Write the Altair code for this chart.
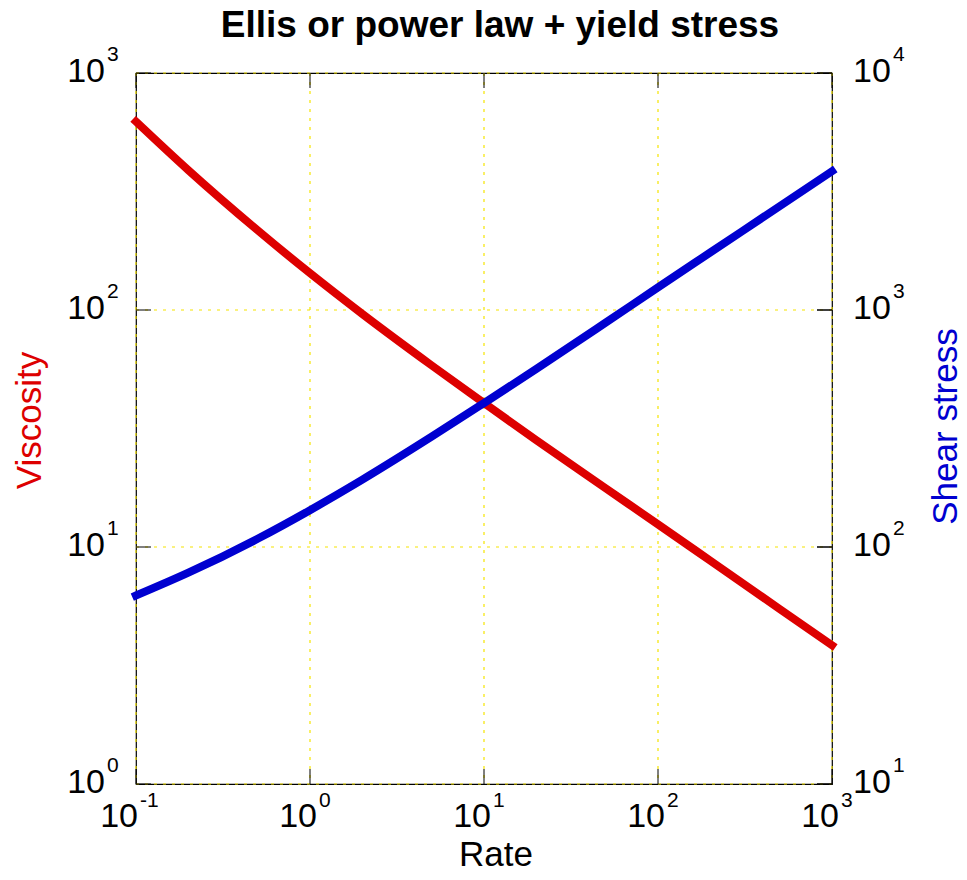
import altair as alt
import pandas as pd

# ---- data ----
rate = [0.1, 0.2, 0.5, 1, 2, 5, 10, 20, 50, 100, 200, 500, 1000]
viscosity = [624, 389, 217, 143, 96.2, 58.4, 40.5, 28.2, 17.7, 12.46, 8.75, 5.48, 3.85]
shear = [62.4, 77.9, 108.3, 143, 192.4, 292, 405, 564, 884, 1246, 1750, 2740, 3850]

x_ticks = [0.1, 1, 10, 100, 1000]
x_exps = ["-1", "0", "1", "2", "3"]
yl_ticks = [1, 10, 100, 1000]
yl_exps = ["0", "1", "2", "3"]
yr_ticks = [10, 100, 1000, 10000]
yr_exps = ["1", "2", "3", "4"]

title_text = ["Ellis or power law + yield stress"]
x_title = ["Rate"]
yl_title = ["Viscosity"]
yr_title = ["Shear stress"]

W, H = 696, 711
FONT = "Liberation Sans"
RED = "#dd0000"
BLUE = "#0000d0"
GRID = "#f5e400"
BASE_SIZE = 34
EXP_SIZE = 21
TITLE_SIZE = 35

df = pd.DataFrame({"rate": rate, "viscosity": viscosity, "shear": shear})
xt = pd.DataFrame({"rate": x_ticks, "exp": x_exps})
ylt = pd.DataFrame({"viscosity": yl_ticks, "exp": yl_exps})
yrt = pd.DataFrame({"shear": yr_ticks, "exp": yr_exps})

xscale = alt.Scale(type="log", domain=[0.1, 1000], nice=False)
ylscale = alt.Scale(type="log", domain=[1, 1000], nice=False)
yrscale = alt.Scale(type="log", domain=[10, 10000], nice=False)

X = alt.X("rate:Q", scale=xscale, axis=None)
YL = alt.Y("viscosity:Q", scale=ylscale, axis=None)
YR = alt.Y("shear:Q", scale=yrscale, axis=None)

# dashed yellow grid
xgrid = alt.Chart(xt).mark_rule(color=GRID, strokeWidth=1.2, strokeDash=[3, 6]).encode(
    x=X, y=alt.value(0), y2=alt.value(H))
ygrid = alt.Chart(ylt).mark_rule(color=GRID, strokeWidth=1.2, strokeDash=[3, 6]).encode(
    y=YL, x=alt.value(0), x2=alt.value(W))

red_line = alt.Chart(df).mark_line(color=RED, strokeWidth=8, strokeCap="square",
                                   interpolate="monotone").encode(x=X, y=YL)
blue_line = alt.Chart(df).mark_line(color=BLUE, strokeWidth=8, strokeCap="square",
                                    interpolate="monotone").encode(x=X, y=YR)

# inward tick marks
xtick_top = alt.Chart(xt).mark_rule(color="black", strokeWidth=1).encode(
    x=X, y=alt.value(0), y2=alt.value(15))
xtick_bot = alt.Chart(xt).mark_rule(color="black", strokeWidth=1).encode(
    x=X, y=alt.value(H - 15), y2=alt.value(H))
yl_tick_l = alt.Chart(ylt).mark_rule(color="black", strokeWidth=1).encode(
    y=YL, x=alt.value(0), x2=alt.value(15))
yl_tick_r = alt.Chart(ylt).mark_rule(color="black", strokeWidth=1).encode(
    y=YL, x=alt.value(W - 15), x2=alt.value(W))
yr_tick_r = alt.Chart(yrt).mark_rule(color="black", strokeWidth=1).encode(
    y=YR, x=alt.value(W - 15), x2=alt.value(W))

# tick labels as "10" + superscript exponent
txt = dict(font=FONT, color="black")
xlab_base_neg = alt.Chart(xt).transform_filter("datum.exp == '-1'").mark_text(
    align="right", baseline="alphabetic", fontSize=BASE_SIZE, dx=2, **txt).encode(
    x=X, y=alt.value(H + 43), text=alt.value("10"))
xlab_base_pos = alt.Chart(xt).transform_filter("datum.exp != '-1'").mark_text(
    align="right", baseline="alphabetic", fontSize=BASE_SIZE, dx=7, **txt).encode(
    x=X, y=alt.value(H + 43), text=alt.value("10"))
xlab_exp_neg = alt.Chart(xt).transform_filter("datum.exp == '-1'").mark_text(
    align="left", baseline="alphabetic", fontSize=EXP_SIZE, dx=4, **txt).encode(
    x=X, y=alt.value(H + 23), text="exp:N")
xlab_exp_pos = alt.Chart(xt).transform_filter("datum.exp != '-1'").mark_text(
    align="left", baseline="alphabetic", fontSize=EXP_SIZE, dx=9, **txt).encode(
    x=X, y=alt.value(H + 23), text="exp:N")

yl_base = alt.Chart(ylt).mark_text(align="right", baseline="alphabetic", fontSize=BASE_SIZE,
                                   dy=9, **txt).encode(
    y=YL, x=alt.value(-31), text=alt.value("10"))
yl_exp = alt.Chart(ylt).mark_text(align="left", baseline="alphabetic", fontSize=EXP_SIZE,
                                  dy=-12, **txt).encode(
    y=YL, x=alt.value(-29), text="exp:N")
yr_base = alt.Chart(yrt).mark_text(align="left", baseline="alphabetic", fontSize=BASE_SIZE,
                                   dy=9, **txt).encode(
    y=YR, x=alt.value(W + 21), text=alt.value("10"))
yr_exp = alt.Chart(yrt).mark_text(align="left", baseline="alphabetic", fontSize=EXP_SIZE,
                                  dy=-12, **txt).encode(
    y=YR, x=alt.value(W + 61), text="exp:N")

# titles
title_mark = alt.Chart(pd.DataFrame({"t": title_text})).mark_text(
    font=FONT, fontSize=37, fontWeight="bold", color="black", align="center",
    baseline="alphabetic").encode(x=alt.value(W / 2 + 16), y=alt.value(-36), text="t:N")
xtitle_mark = alt.Chart(pd.DataFrame({"t": x_title})).mark_text(
    font=FONT, fontSize=TITLE_SIZE, color="black", align="center",
    baseline="alphabetic").encode(x=alt.value(360), y=alt.value(H + 82), text="t:N")
yltitle_mark = alt.Chart(pd.DataFrame({"t": yl_title})).mark_text(
    font=FONT, fontSize=TITLE_SIZE, color=RED, align="center", baseline="middle",
    angle=270).encode(x=alt.value(-106), y=alt.value(H / 2 - 8), text="t:N")
yrtitle_mark = alt.Chart(pd.DataFrame({"t": yr_title})).mark_text(
    font=FONT, fontSize=TITLE_SIZE, color=BLUE, align="center", baseline="middle",
    angle=270).encode(x=alt.value(W + 114), y=alt.value(H / 2 - 2), text="t:N")

left = alt.layer(xgrid, ygrid, red_line, xtick_top, xtick_bot, yl_tick_l, yl_tick_r,
                 xlab_base_neg, xlab_base_pos, xlab_exp_neg, xlab_exp_pos, yl_base, yl_exp,
                 title_mark, xtitle_mark, yltitle_mark)
right = alt.layer(blue_line, yr_tick_r, yr_base, yr_exp, yrtitle_mark)

chart = alt.layer(left, right).resolve_scale(y="independent").properties(
    width=W, height=H,
    background="white",
    autosize=alt.AutoSizeParams(type="none"),
    padding={"left": 136, "top": 73, "right": 135, "bottom": 96},
).configure_view(stroke="black", strokeWidth=1.2)

chart.save("out.html", embed_options={"renderer": "svg", "actions": False})
